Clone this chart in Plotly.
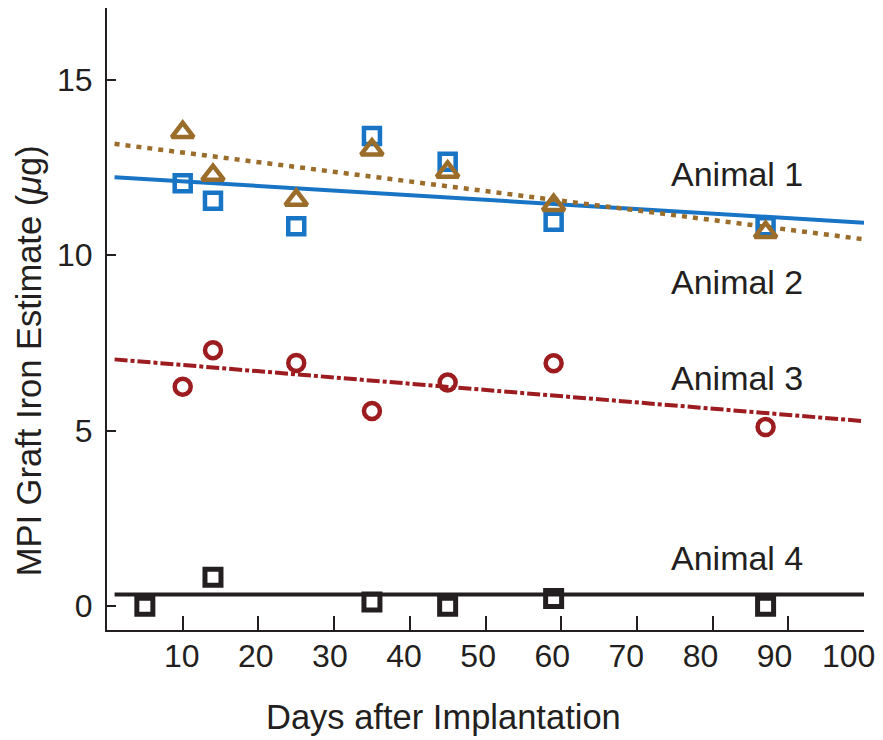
import plotly.graph_objects as go

# Measurement days and MPI iron estimates per animal
days_a1 = [10, 14, 25, 35, 45, 59, 87]
iron_a1 = [12.05, 11.55, 10.82, 13.39, 12.66, 10.95, 10.82]

days_a2 = [10, 14, 25, 35, 45, 59, 87]
iron_a2 = [13.5, 12.28, 11.57, 13.0, 12.37, 11.42, 10.65]

days_a3 = [10, 14, 25, 35, 45, 59, 87]
iron_a3 = [6.25, 7.29, 6.93, 5.56, 6.37, 6.92, 5.1]

days_a4 = [5, 14, 35, 45, 59, 87]
iron_a4 = [0.0, 0.82, 0.12, 0.0, 0.22, 0.0]

# Linear trend endpoints for each animal
trend_days = [1, 100]
trend_a1 = [12.22, 10.92]
trend_a2 = [13.17, 10.45]
trend_a3 = [7.03, 5.27]
trend_a4 = [0.33, 0.33]

labels = ["Animal 1", "Animal 2", "Animal 3", "Animal 4"]
label_x = [83.2, 83.2, 83.2, 83.2]
label_y = [12.3, 9.22, 6.5, 1.37]

x_ticks = [10, 20, 30, 40, 50, 60, 70, 80, 90, 100]
y_ticks = [0, 5, 10, 15]

BLUE = "#1874c4"
BROWN = "#9b6d2a"
RED = "#9c1c20"
BLACK = "#231f20"
FONT = "Liberation Sans, Arial, sans-serif"

fig = go.Figure()

# trend lines
fig.add_trace(go.Scatter(x=trend_days, y=trend_a1, mode="lines",
                         line=dict(color=BLUE, width=4)))
fig.add_trace(go.Scatter(x=trend_days, y=trend_a2, mode="lines",
                         line=dict(color=BROWN, width=4.5, dash="5px,6px")))
fig.add_trace(go.Scatter(x=trend_days, y=trend_a3, mode="lines",
                         line=dict(color=RED, width=4, dash="13px,3px,4px,3px")))
fig.add_trace(go.Scatter(x=trend_days, y=trend_a4, mode="lines",
                         line=dict(color=BLACK, width=4)))

# measured points
fig.add_trace(go.Scatter(x=days_a1, y=iron_a1, mode="markers",
                         marker=dict(symbol="square-open", size=16, color=BLUE,
                                     line=dict(width=4.5, color=BLUE))))
fig.add_trace(go.Scatter(x=days_a2, y=iron_a2, mode="markers",
                         marker=dict(symbol="triangle-up-open", size=19, color=BROWN,
                                     line=dict(width=4.5, color=BROWN))))
fig.add_trace(go.Scatter(x=days_a3, y=iron_a3, mode="markers",
                         marker=dict(symbol="circle-open", size=16, color=RED,
                                     line=dict(width=4.5, color=RED))))
fig.add_trace(go.Scatter(x=days_a4, y=iron_a4, mode="markers",
                         marker=dict(symbol="square-open", size=16, color=BLACK,
                                     line=dict(width=5, color=BLACK))))

# an invisible point keeps the label-only x axis drawn
fig.add_trace(go.Scatter(x=[50], y=[5], xaxis="x2", mode="markers",
                         marker=dict(opacity=0), hoverinfo="skip"))

# page geometry (pixels)
L, R, T, B = 107, 16, 8, 110
W, H = 883, 740
pw, ph = W - L - R, H - T - B

annotations = [
    dict(x=lx, y=ly, xref="x", yref="y", text=t, showarrow=False,
         xanchor="center", yanchor="middle",
         font=dict(family=FONT, size=34, color=BLACK))
    for t, lx, ly in zip(labels, label_x, label_y)
]
# axis titles, positioned in paper coordinates from pixel centres
annotations.append(dict(x=(29 - L) / pw, y=(H - B - 361) / ph,
                        xref="paper", yref="paper",
                        text="MPI Graft Iron Estimate (<i>μ</i>g)", textangle=-90,
                        showarrow=False, xanchor="center", yanchor="middle",
                        font=dict(family=FONT, size=34.5, color=BLACK)))
annotations.append(dict(x=(445 - L) / pw, y=(H - B - 717) / ph,
                        xref="paper", yref="paper",
                        text="Days after Implantation", showarrow=False,
                        xanchor="center", yanchor="middle",
                        font=dict(family=FONT, size=34.5, color=BLACK)))

fig.update_layout(
    width=W, height=H,
    margin=dict(l=L, r=R, t=T, b=B, pad=0),
    paper_bgcolor="white", plot_bgcolor="white",
    showlegend=False,
    annotations=annotations,
    font=dict(family=FONT, color=BLACK),
    # tick marks and axis line
    xaxis=dict(range=[0, 100], tickvals=x_ticks, ticks="inside", ticklen=14,
               tickwidth=2, tickcolor=BLACK, showline=True, linecolor=BLACK,
               linewidth=2, showgrid=False, zeroline=False,
               showticklabels=False),
    # label-only axis: the day labels sit on a slightly tighter scale than the ticks
    xaxis2=dict(overlaying="x", anchor="y", side="bottom",
                range=[-0.08, 102.07], tickvals=x_ticks, ticks="",
                showline=False, showgrid=False, zeroline=False,
                tickfont=dict(family=FONT, size=32, color=BLACK),
                ticklabelstandoff=4, ticklabeloverflow="allow"),
    yaxis=dict(range=[-0.68, 17.04], tickvals=y_ticks, ticks="inside", ticklen=9,
               tickwidth=2, tickcolor=BLACK, showline=True, linecolor=BLACK,
               linewidth=2, showgrid=False, zeroline=False,
               tickfont=dict(family=FONT, size=32, color=BLACK),
               ticklabelstandoff=6),
)

fig.write_html("out.html")
